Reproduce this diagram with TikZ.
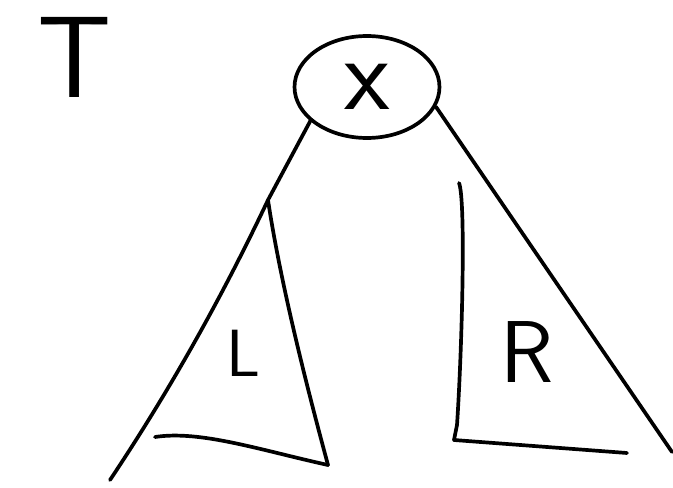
\documentclass[tikz,border=0pt]{standalone}
\usepackage{fontspec}
\usetikzlibrary{shapes.geometric, calc}

\tikzset{
  pen/.style={line width=2.1pt, line cap=round, line join=round},
  letter/.style={font=\sffamily\fontsize{#1}{#1}\selectfont, inner sep=0pt},
  keynode/.style={ellipse, draw, pen, minimum width=2.9cm, minimum height=2.04cm, inner sep=0pt},
}

\begin{document}
\begin{tikzpicture}[x=0.02cm, y=-0.02cm]
  \useasboundingbox (0,0) rectangle (673,487);
  % tree name
  \node[letter=66pt] (tname) at (75,57) {T};
  % root with its key
  \node[keynode, letter=60pt] (root) at (367,87) {x};

  % left subtree
  \coordinate (lapex) at (268,200);
  \coordinate (lleft) at (110,480);
  \coordinate (lright) at (328,465);
  \coordinate (lbase) at (155,437);
  \draw[pen] (root.211) -- (lapex) .. controls (224,293) and (172,387) .. (lleft);
  \draw[pen] (lapex) .. controls (280,280) and (305,380) .. (lright);
  \draw[pen] (lbase) .. controls (200,430) and (260,450) .. (lright);
  \node[letter=38pt] (lname) at (243,353) {L};

  % right subtree
  \coordinate (rapex) at (459,183);
  \coordinate (rcorner) at (454,440);
  \coordinate (rbase) at (627,453);
  \coordinate (rright) at (672,452);
  \draw[pen] (root.344) -- (rright);
  \draw[pen] (rapex) .. controls (466,200) and (462,350) .. (457,425) -- (rcorner) -- (rbase);
  \node[letter=50pt] (rname) at (527,352) {R};
\end{tikzpicture}
\end{document}
